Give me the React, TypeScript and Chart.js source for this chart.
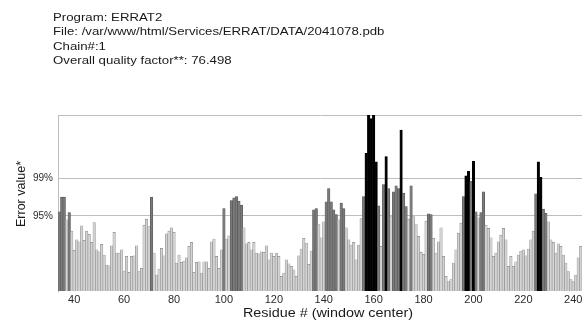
import React, { useEffect, useRef } from "react";
import { Chart, registerables } from "chart.js";

Chart.register(...registerables);

// ---- text ----
const headerLines = [
  "Program: ERRAT2",
  "File: /var/www/html/Services/ERRAT/DATA/2041078.pdb",
  "Chain#:1",
  "Overall quality factor**: 76.498",
];
const xTitle = "Residue # (window center)";
const yTitle = "Error value*";

// ---- categories (residue numbers, window centers) ----
const firstResidue = 34;
const lastResidue = 243;
const residues = Array.from(
  { length: lastResidue - firstResidue + 1 },
  (_, i) => firstResidue + i
);
const xTickLabels = [40, 60, 80, 100, 120, 140, 160, 180, 200, 220, 240];

// ---- error values ----
const values034to073 = [
  11.9, 14.1, 14.1, 10.7, 11.8, 9.0, 6.1, 7.7, 7.4, 9.8,
  7.6, 9.0, 8.5, 7.3, 10.3, 6.2, 5.9, 7.0, 5.4, 3.9,
  3.8, 6.8, 8.8, 5.7, 5.7, 6.2, 3.0, 5.2, 2.8, 5.2,
  5.3, 6.8, 2.9, 3.4, 9.9, 10.8, 9.7, 14.1, 5.7, 2.4,
];
const values074to113 = [
  3.3, 6.4, 5.3, 8.6, 9.0, 9.5, 8.8, 4.2, 5.4, 4.3,
  4.5, 5.0, 6.7, 7.3, 2.8, 4.3, 4.4, 2.7, 4.4, 4.4,
  3.4, 7.4, 7.8, 5.2, 3.4, 6.2, 12.4, 7.8, 8.3, 13.6,
  14.0, 14.2, 13.5, 12.9, 9.5, 7.1, 7.3, 6.2, 7.3, 5.7,
];
const values114to153 = [
  5.6, 5.9, 5.8, 6.8, 4.7, 5.7, 5.2, 5.7, 5.2, 2.2,
  2.7, 4.7, 4.1, 3.7, 3.2, 2.2, 5.3, 6.3, 7.9, 7.2,
  4.0, 6.0, 12.2, 12.4, 10.0, 8.0, 10.4, 13.4, 15.4, 13.4,
  12.2, 11.5, 10.7, 13.2, 12.4, 9.5, 7.7, 6.9, 7.3, 4.7,
];
const values154to193 = [
  6.9, 10.9, 14.2, 20.7, 27.0, 25.9, 27.0, 19.4, 12.8, 6.7,
  16.0, 20.2, 15.4, 11.2, 14.9, 15.8, 15.4, 24.2, 14.7, 12.7,
  10.8, 15.8, 11.2, 10.0, 8.2, 5.8, 5.5, 10.5, 11.6, 11.5,
  7.9, 5.7, 7.4, 9.5, 5.2, 2.2, 1.4, 1.7, 4.2, 6.2,
];
const values194to243 = [
  8.7, 10.2, 14.2, 17.3, 18.0, 16.5, 19.5, 11.9, 11.0, 11.8,
  14.9, 9.9, 9.4, 8.0, 5.2, 5.7, 7.4, 8.4, 9.4, 7.7,
  3.7, 5.2, 3.7, 4.4, 5.4, 6.0, 6.2, 5.3, 6.3, 7.7,
  9.0, 14.6, 19.4, 17.1, 12.3, 11.7, 10.4, 7.7, 7.3, 5.7,
  7.1, 6.7, 5.4, 4.2, 2.9, 1.7, 1.4, 2.4, 5.0, 6.7,
];
const errorValues = [
  ...values034to073,
  ...values074to113,
  ...values114to153,
  ...values154to193,
  ...values194to243,
];

// ---- y axis reference lines ----
const thresholdValues = [11.3, 16.9];
const thresholdLabels = ["95%", "99%"];
const yMax = 26.45;

// ---- styles ----
const FONT = '"Liberation Sans", Arial, Helvetica, sans-serif';
const LIGHT_FILL = "#d3d3d3";
const LIGHT_EDGE = "#8e8e8e";
const GRAY_FILL = "#7a7a7a";
const GRAY_EDGE = "#555555";
const BLACK = "#000000";

function fillFor(v: number) {
  if (v > thresholdValues[1]) return BLACK;
  if (v > thresholdValues[0]) return GRAY_FILL;
  return LIGHT_FILL;
}
function edgeFor(v: number) {
  if (v > thresholdValues[1]) return BLACK;
  if (v > thresholdValues[0]) return GRAY_EDGE;
  return LIGHT_EDGE;
}

const textPlugin = {
  id: "erratText",
  afterDraw(chart: any) {
    const ctx = chart.ctx as CanvasRenderingContext2D;
    ctx.save();
    ctx.fillStyle = "#1a1a1a";
    ctx.textBaseline = "alphabetic";
    // header
    ctx.font = `11.5px ${FONT}`;
    ctx.textAlign = "left";
    const baselines = [20.5, 35, 49.5, 64];
    headerLines.forEach((t, i) => {
      ctx.save();
      ctx.translate(53, baselines[i]);
      ctx.scale(1.15, 1);
      ctx.fillText(t, 0, 0);
      ctx.restore();
    });
    // x title
    ctx.font = `12.5px ${FONT}`;
    ctx.save();
    ctx.translate(328, 316.5);
    ctx.scale(1.15, 1);
    ctx.textAlign = "center";
    ctx.fillText(xTitle, 0, 0);
    ctx.restore();
    // y title
    ctx.font = `12.5px ${FONT}`;
    ctx.save();
    ctx.translate(25, 194);
    ctx.rotate(-Math.PI / 2);
    ctx.textAlign = "center";
    ctx.fillText(yTitle, 0, 0);
    ctx.restore();
    ctx.restore();
  },
};

export default function App() {
  const ref = useRef<HTMLCanvasElement>(null);

  useEffect(() => {
    const canvas = ref.current;
    if (!canvas) return;
    const chart = new Chart(canvas, {
      type: "bar",
      data: {
        labels: residues.map(String),
        datasets: [
          {
            data: errorValues,
            backgroundColor: errorValues.map(fillFor),
            borderColor: errorValues.map(edgeFor),
            borderWidth: 0.6,
            borderSkipped: "bottom",
            categoryPercentage: 1,
            barPercentage: 1,
          },
        ],
      },
      options: {
        animation: false,
        responsive: false,
        devicePixelRatio: 1,
        events: [],
        layout: { padding: { top: 115, left: 0, right: 0, bottom: 0 } },
        plugins: {
          legend: { display: false },
          title: { display: false },
          tooltip: { enabled: false },
        },
        scales: {
          x: {
            type: "category",
            grid: { display: false, drawTicks: false },
            border: { display: false },
            ticks: {
              autoSkip: false,
              maxRotation: 0,
              minRotation: 0,
              padding: 2,
              color: "#2a2a2a",
              font: { family: FONT, size: 11 },
              callback: (_v: any, index: number) =>
                xTickLabels.includes(residues[index]) ? String(residues[index]) : "",
            },
            afterFit: (s: any) => {
              s.height = 29;
              s.paddingLeft = 0;
              s.paddingRight = 0;
            },
          },
          y: {
            min: 0,
            max: yMax,
            afterBuildTicks: (s: any) => {
              s.ticks = [...thresholdValues, yMax].map((v) => ({ value: v }));
            },
            grid: { color: "#bdbdbd", lineWidth: 1, drawTicks: false },
            border: { display: true, color: "#bdbdbd", width: 1 },
            ticks: {
              padding: 5,
              color: "#2a2a2a",
              font: { family: FONT, size: 10 },
              callback: (v: any) => {
                const i = thresholdValues.indexOf(Number(v));
                return i >= 0 ? thresholdLabels[i] : "";
              },
            },
            afterFit: (s: any) => {
              s.width = 58;
              s.paddingTop = 0;
              s.paddingBottom = 0;
            },
          },
        },
      },
      plugins: [textPlugin],
    } as any);
    return () => chart.destroy();
  }, []);

  return (
    <div
      style={{
        position: "absolute",
        left: 0,
        top: 0,
        width: 582,
        height: 320,
        background: "#ffffff",
      }}
    >
      <canvas
        ref={ref}
        width={582}
        height={320}
        style={{ display: "block", width: 582, height: 320 }}
      />
    </div>
  );
}
